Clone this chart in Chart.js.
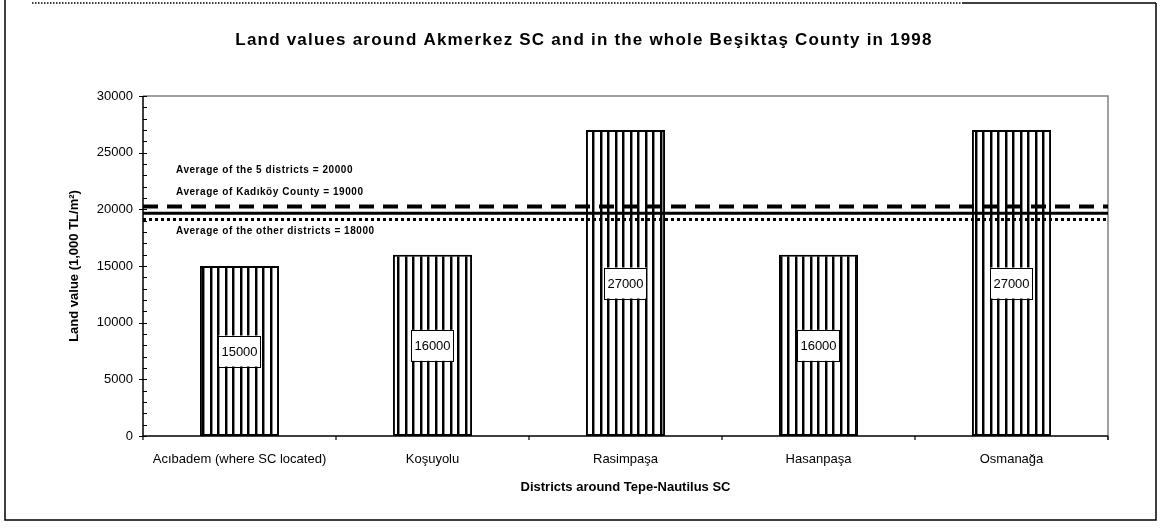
<!DOCTYPE html>
<html><head><meta charset="utf-8">
<script src="https://cdn.jsdelivr.net/npm/chart.js@4"></script>
<style>html,body{margin:0;padding:0;background:#fff}#wrap{width:1161px;height:529px;position:relative}</style>
</head><body><div id="wrap"><canvas id="c" width="1161" height="529"></canvas></div>
<script>
const chartTitle = "Land values around Akmerkez SC and in the whole Beşiktaş County in 1998";
const categories = ["Acıbadem (where SC located)", "Koşuyolu", "Rasimpaşa", "Hasanpaşa", "Osmanağa"];
const landValues = [15000, 16000, 27000, 16000, 27000];
const yMin = 0, yMax = 30000, yStep = 5000, yMinorStep = 1000;
const refLabels = ["Average of the 5 districts = 20000", "Average of Kadıköy County = 19000", "Average of the other districts = 18000"];
const refValues = [20250, 19650, 19100];
const yTitle = "Land value (1,000 TL/m²)";
const xTitle = "Districts around Tepe-Nautilus SC";

const FONT = "'Liberation Sans', Arial, sans-serif";

// stripe pattern
const pc = document.createElement('canvas'); pc.width = 15; pc.height = 4;
const pctx = pc.getContext('2d');
pctx.fillStyle = '#fff'; pctx.fillRect(0, 0, 15, 4);
pctx.fillStyle = '#000'; pctx.fillRect(0, 0, 2, 4); pctx.fillRect(7, 0, 2, 4);
pctx.fillStyle = '#888'; pctx.fillRect(2, 0, 1, 4); pctx.fillRect(9, 0, 1, 4);
const ctx0 = document.getElementById('c').getContext('2d');
const stripe = ctx0.createPattern(pc, 'repeat');

const decor = {
  id: 'decor',
  beforeDraw(chart) {
    const c = chart.ctx;
    c.save();
    c.fillStyle = '#fff'; c.fillRect(0, 0, chart.width, chart.height);
    c.strokeStyle = '#000'; c.lineWidth = 1.5;
    // frame
    c.beginPath();
    c.moveTo(5, 0); c.lineTo(5, 520); c.lineTo(1156, 520); c.lineTo(1156, 3);
    c.moveTo(963, 3); c.lineTo(1156, 3);
    c.stroke();
    c.setLineDash([1.5, 1.5]);
    c.beginPath(); c.moveTo(32, 3); c.lineTo(963, 3); c.stroke();
    c.setLineDash([]);
    // title
    c.fillStyle = '#000';
    c.font = "bold 17px " + FONT;
    c.textAlign = 'center'; c.textBaseline = 'middle';
    if ('letterSpacing' in c) c.letterSpacing = '1.2px';
    c.fillText(chartTitle, 584, 40);
    if ('letterSpacing' in c) c.letterSpacing = '0px';
    c.restore();
  },
  beforeDatasetsDraw(chart) {
    const c = chart.ctx, a = chart.chartArea;
    c.save();
    c.strokeStyle = '#808080'; c.lineWidth = 1.5;
    c.beginPath(); c.moveTo(a.left, a.top); c.lineTo(a.right, a.top); c.lineTo(a.right, a.bottom + 4); c.stroke();
    c.restore();
  },
  afterDatasetsDraw(chart) {
    const c = chart.ctx, a = chart.chartArea, ys = chart.scales.y, xs = chart.scales.x;
    c.save();
    // axes
    c.strokeStyle = '#000'; c.lineWidth = 1.5;
    c.beginPath(); c.moveTo(a.left, a.top); c.lineTo(a.left, a.bottom); c.lineTo(a.right, a.bottom); c.stroke();
    // y ticks
    c.lineWidth = 1.2;
    c.beginPath();
    for (let v = yMin; v <= yMax; v += yMinorStep) {
      const y = Math.round(ys.getPixelForValue(v)) + 0.5;
      if (v % yStep === 0) { c.moveTo(a.left - 4, y); c.lineTo(a.left + 4, y); }
      else { c.moveTo(a.left, y); c.lineTo(a.left + 4, y); }
    }
    // x ticks at category boundaries
    const n = categories.length;
    for (let i = 0; i <= n; i++) {
      const x = (i === 0) ? a.left : (i === n ? a.right : (xs.getPixelForValue(i - 1) + xs.getPixelForValue(i)) / 2);
      c.moveTo(x, a.bottom); c.lineTo(x, a.bottom + 4);
    }
    c.stroke();
    // reference lines
    const styles = [
      { w: 4, dash: [15, 9] },
      { w: 3, dash: [] },
      { w: 3, dash: [3, 3] }
    ];
    refValues.forEach((v, i) => {
      const y = ys.getPixelForValue(v);
      c.strokeStyle = '#000'; c.lineWidth = styles[i].w; c.setLineDash(styles[i].dash); c.lineCap = 'butt';
      c.beginPath(); c.moveTo(a.left, y); c.lineTo(a.right, y); c.stroke();
    });
    c.setLineDash([]);
    // reference labels
    c.fillStyle = '#000'; c.font = "bold 10px " + FONT; c.textAlign = 'left'; c.textBaseline = 'middle';
    if ('letterSpacing' in c) c.letterSpacing = '0.55px';
    const y0 = ys.getPixelForValue(refValues[0]);
    const y2 = ys.getPixelForValue(refValues[2]);
    c.fillText(refLabels[0], a.left + 33, y0 - 36);
    c.fillText(refLabels[1], a.left + 33, y0 - 14);
    c.fillText(refLabels[2], a.left + 33, y2 + 12);
    if ('letterSpacing' in c) c.letterSpacing = '0px';
    // data labels
    const meta = chart.getDatasetMeta(0);
    c.font = "13px " + FONT; c.textAlign = 'center';
    meta.data.forEach((bar, i) => {
      const txt = String(landValues[i]);
      const cy = (bar.y + bar.base) / 2;
      const w = c.measureText(txt).width + 6, h = 31;
      c.fillStyle = '#fff'; c.fillRect(bar.x - w / 2, cy - h / 2, w, h);
      c.strokeStyle = '#000'; c.lineWidth = 1; c.strokeRect(Math.round(bar.x - w / 2) + 0.5, Math.round(cy - h / 2) + 0.5, Math.round(w), h);
      c.fillStyle = '#000'; c.fillText(txt, bar.x, cy + 1);
    });
    c.restore();
  }
};

new Chart(ctx0, {
  type: 'bar',
  data: {
    labels: categories,
    datasets: [{
      data: landValues,
      backgroundColor: stripe,
      borderColor: '#000',
      borderWidth: 2,
      borderSkipped: false,
      categoryPercentage: 1,
      barPercentage: 0.41
    }]
  },
  options: {
    responsive: false,
    animation: false,
    devicePixelRatio: 1,
    layout: { padding: { left: 0, right: 53, top: 96, bottom: 0 } },
    plugins: {
      legend: { display: false },
      tooltip: { enabled: false },
      title: { display: false }
    },
    scales: {
      x: {
        grid: { display: false, drawTicks: false },
        border: { display: false },
        ticks: { color: '#000', font: { family: FONT, size: 13 }, padding: 16, maxRotation: 0, autoSkip: false },
        title: { display: true, text: xTitle, color: '#000', font: { family: FONT, size: 13, weight: 'bold' }, padding: { top: 0, bottom: 34 } },
        afterFit(s) { s.height = 93; }
      },
      y: {
        min: yMin, max: yMax,
        grid: { display: false, drawTicks: false },
        border: { display: false },
        ticks: { stepSize: yStep, color: '#000', font: { family: FONT, size: 13 }, padding: 10, callback: (v) => String(v) },
        title: { display: true, text: yTitle, color: '#000', font: { family: FONT, size: 13, weight: 'bold' }, padding: { top: 67, bottom: 0 } },
        afterFit(s) { s.width = 143; }
      }
    }
  },
  plugins: [decor]
});
</script>
</body></html>
